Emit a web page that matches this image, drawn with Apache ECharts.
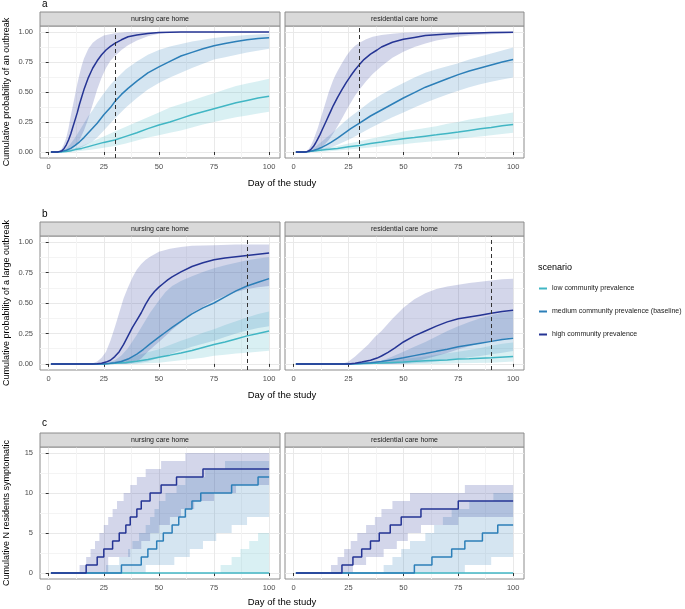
<!DOCTYPE html>
<html><head><meta charset="utf-8">
<script src="https://cdn.jsdelivr.net/npm/echarts@6/dist/echarts.min.js"></script>
<style>html,body{margin:0;padding:0;background:#fff}#chart{width:685px;height:609px}</style>
</head><body><div id="chart"></div>
<script>
// ---------------- labels ----------------
const scenarioNames = ['low community prevalence', 'medium community prevalence (baseline)', 'high community prevalence'];
const facetNames = ['nursing care home', 'residential care home'];
const rowLetters = ['a', 'b', 'c'];
const yTitles = ['Cumulative probability of an outbreak', 'Cumulative probability of a large outbreak', 'Cumulative N residents symptomatic'];
const xTitle = 'Day of the study';
const xTicks = [0, 25, 50, 75, 100];
const xMinorTicks = [12.5, 37.5, 62.5, 87.5];
const probTicks = [0, 0.25, 0.5, 0.75, 1];
const probMinorTicks = [0.125, 0.375, 0.625, 0.875];
const countTicks = [0, 5, 10, 15];
const countMinorTicks = [2.5, 7.5, 12.5];
const cutoffDays = [30, 90, null];

// ---------------- panel a : nursing ----------------
const aNursLowLine = [[1,0],[5,0],[8,0.005],[10,0.01],[12,0.02],[15,0.03],[18,0.045],[20,0.055],[25,0.08],[30,0.10],[35,0.13],[40,0.16],[45,0.195],[50,0.225],[55,0.25],[60,0.28],[65,0.31],[70,0.335],[75,0.36],[80,0.385],[85,0.41],[90,0.43],[95,0.45],[100,0.465]];
const aNursLowHi = [[1,0],[5,0],[8,0.01],[10,0.02],[15,0.05],[20,0.09],[25,0.13],[30,0.17],[35,0.21],[40,0.25],[45,0.29],[50,0.33],[55,0.37],[60,0.40],[65,0.43],[70,0.46],[75,0.49],[80,0.52],[85,0.55],[90,0.57],[95,0.59],[100,0.61]];
const aNursLowLo = [[1,0],[10,0],[15,0.01],[20,0.02],[25,0.035],[30,0.05],[35,0.07],[40,0.095],[45,0.12],[50,0.14],[55,0.16],[60,0.18],[65,0.205],[70,0.23],[75,0.25],[80,0.27],[85,0.29],[90,0.305],[95,0.32],[100,0.335]];
const aNursMedLine = [[1,0],[4,0],[6,0.005],[8,0.015],[10,0.03],[12,0.055],[14,0.085],[16,0.12],[18,0.16],[20,0.2],[22,0.24],[25,0.31],[28,0.37],[30,0.42],[33,0.48],[36,0.53],[40,0.59],[45,0.66],[50,0.71],[55,0.755],[60,0.80],[65,0.83],[70,0.86],[75,0.885],[80,0.905],[85,0.92],[90,0.935],[95,0.945],[100,0.952]];
const aNursMedHi = [[1,0],[4,0],[6,0.01],[8,0.03],[10,0.07],[12,0.12],[14,0.18],[16,0.24],[18,0.30],[20,0.35],[22,0.41],[25,0.49],[28,0.56],[30,0.60],[35,0.69],[40,0.755],[45,0.81],[50,0.85],[55,0.88],[60,0.90],[65,0.92],[70,0.935],[75,0.95],[80,0.96],[90,0.975],[100,0.985]];
const aNursMedLo = [[1,0],[8,0],[10,0.005],[12,0.015],[14,0.03],[16,0.05],[18,0.07],[20,0.09],[22,0.12],[25,0.18],[28,0.24],[30,0.28],[35,0.37],[40,0.45],[45,0.52],[50,0.575],[55,0.62],[60,0.66],[65,0.70],[70,0.735],[75,0.77],[80,0.79],[90,0.83],[100,0.86]];
const aNursHighLine = [[1,0],[4,0],[5,0.005],[6,0.01],[7,0.03],[8,0.06],[9,0.1],[10,0.15],[11,0.21],[12,0.27],[13,0.33],[14,0.40],[15,0.46],[16,0.52],[17,0.57],[18,0.62],[19,0.66],[20,0.70],[22,0.76],[24,0.81],[26,0.85],[28,0.88],[30,0.905],[33,0.935],[36,0.96],[40,0.975],[45,0.988],[50,0.995],[60,0.999],[70,1],[100,1]];
const aNursHighHi = [[1,0],[4,0],[5,0.01],[6,0.03],[7,0.07],[8,0.12],[9,0.2],[10,0.3],[11,0.39],[12,0.48],[13,0.57],[14,0.65],[15,0.72],[16,0.78],[18,0.86],[20,0.91],[22,0.94],[25,0.97],[30,0.99],[35,0.997],[40,1],[100,1]];
const aNursHighLo = [[1,0],[7,0],[8,0.005],[10,0.02],[12,0.05],[14,0.10],[16,0.18],[18,0.28],[20,0.40],[22,0.52],[24,0.62],[26,0.70],[28,0.76],[30,0.80],[33,0.85],[36,0.89],[40,0.93],[45,0.965],[50,0.985],[55,0.995],[60,1],[100,1]];

// ---------------- panel a : residential ----------------
const aResLowLine = [[1,0],[5,0],[10,0.01],[15,0.02],[20,0.03],[25,0.043],[30,0.055],[35,0.07],[40,0.083],[45,0.097],[50,0.11],[55,0.12],[60,0.132],[65,0.143],[70,0.155],[75,0.167],[80,0.18],[85,0.193],[90,0.205],[95,0.218],[100,0.23]];
const aResLowHi = [[1,0],[5,0],[10,0.02],[15,0.035],[20,0.05],[25,0.07],[30,0.09],[35,0.11],[40,0.13],[45,0.15],[50,0.17],[55,0.185],[60,0.2],[65,0.215],[70,0.235],[75,0.25],[80,0.27],[85,0.285],[90,0.3],[95,0.315],[100,0.33]];
const aResLowLo = [[1,0],[10,0],[15,0.005],[20,0.012],[25,0.02],[30,0.03],[35,0.038],[40,0.047],[45,0.056],[50,0.065],[55,0.074],[60,0.083],[65,0.092],[70,0.1],[75,0.11],[80,0.12],[85,0.13],[90,0.14],[95,0.15],[100,0.16]];
const aResMedLine = [[1,0],[5,0],[7,0.004],[9,0.012],[11,0.025],[13,0.04],[15,0.06],[17,0.08],[20,0.115],[23,0.155],[26,0.195],[30,0.24],[35,0.30],[40,0.35],[45,0.40],[50,0.45],[55,0.495],[60,0.54],[65,0.575],[70,0.61],[75,0.645],[80,0.675],[85,0.70],[90,0.725],[95,0.75],[100,0.77]];
const aResMedHi = [[1,0],[5,0],[7,0.01],[9,0.03],[11,0.06],[13,0.09],[15,0.12],[17,0.15],[20,0.2],[23,0.25],[26,0.295],[30,0.35],[35,0.42],[40,0.48],[45,0.53],[50,0.575],[55,0.62],[60,0.66],[65,0.69],[70,0.715],[75,0.74],[80,0.77],[85,0.795],[90,0.82],[95,0.845],[100,0.87]];
const aResMedLo = [[1,0],[8,0],[10,0.005],[12,0.012],[15,0.025],[18,0.045],[20,0.06],[23,0.085],[26,0.11],[30,0.15],[35,0.2],[40,0.245],[45,0.29],[50,0.33],[55,0.37],[60,0.41],[65,0.445],[70,0.48],[75,0.51],[80,0.54],[85,0.565],[90,0.585],[95,0.605],[100,0.62]];
const aResHighLine = [[1,0],[5,0],[6,0.003],[7,0.01],[8,0.025],[9,0.045],[10,0.075],[11,0.11],[12,0.145],[13,0.185],[14,0.225],[15,0.265],[16,0.305],[17,0.345],[18,0.385],[19,0.42],[20,0.455],[22,0.52],[24,0.58],[26,0.635],[28,0.685],[30,0.73],[32,0.77],[35,0.815],[38,0.85],[40,0.875],[45,0.915],[50,0.94],[55,0.955],[60,0.97],[65,0.978],[70,0.983],[75,0.987],[80,0.99],[90,0.995],[100,0.997]];
const aResHighHi = [[1,0],[5,0],[6,0.01],[7,0.03],[8,0.06],[9,0.1],[10,0.15],[11,0.2],[12,0.26],[13,0.32],[14,0.38],[15,0.44],[16,0.5],[17,0.55],[18,0.6],[19,0.64],[20,0.675],[22,0.74],[24,0.8],[26,0.85],[28,0.885],[30,0.91],[33,0.94],[36,0.96],[40,0.975],[45,0.985],[50,0.993],[60,0.998],[70,1],[100,1]];
const aResHighLo = [[1,0],[7,0],[8,0.003],[10,0.01],[12,0.03],[14,0.06],[16,0.1],[18,0.155],[20,0.215],[22,0.28],[25,0.38],[28,0.47],[30,0.52],[33,0.59],[36,0.65],[40,0.715],[45,0.785],[50,0.835],[55,0.875],[60,0.905],[65,0.93],[70,0.945],[75,0.96],[80,0.97],[90,0.982],[100,0.99]];

// ---------------- panel b : nursing ----------------
const bNursLowLine = [[1,0],[25,0],[30,0.005],[35,0.012],[40,0.022],[45,0.037],[50,0.055],[55,0.072],[60,0.09],[65,0.11],[70,0.135],[75,0.16],[80,0.18],[85,0.205],[90,0.23],[95,0.25],[100,0.27]];
const bNursLowHi = [[1,0],[25,0],[30,0.02],[35,0.04],[40,0.07],[45,0.095],[50,0.12],[55,0.155],[60,0.19],[65,0.22],[70,0.255],[75,0.285],[80,0.32],[85,0.35],[90,0.38],[95,0.41],[100,0.43]];
const bNursLowLo = [[1,0],[40,0],[45,0.005],[50,0.01],[55,0.02],[60,0.03],[65,0.04],[70,0.05],[75,0.066],[80,0.075],[85,0.085],[90,0.092],[95,0.1],[100,0.107]];
const bNursMedLine = [[1,0],[25,0],[28,0.005],[30,0.01],[33,0.02],[36,0.04],[40,0.08],[43,0.12],[46,0.165],[50,0.22],[53,0.26],[56,0.30],[60,0.35],[65,0.41],[70,0.46],[75,0.50],[80,0.55],[85,0.60],[90,0.64],[95,0.67],[100,0.70]];
const bNursMedHi = [[1,0],[24,0],[27,0.01],[30,0.03],[33,0.07],[36,0.13],[40,0.24],[43,0.33],[46,0.42],[50,0.52],[53,0.59],[56,0.64],[60,0.68],[65,0.72],[70,0.755],[75,0.785],[80,0.81],[85,0.83],[90,0.85],[95,0.865],[100,0.875]];
const bNursMedLo = [[1,0],[35,0],[40,0.005],[45,0.02],[50,0.05],[55,0.08],[60,0.11],[65,0.14],[70,0.165],[75,0.19],[80,0.22],[85,0.25],[90,0.275],[95,0.295],[100,0.31]];
const bNursHighLine = [[1,0],[20,0],[22,0.002],[24,0.006],[26,0.015],[28,0.03],[30,0.06],[32,0.10],[34,0.16],[36,0.23],[38,0.30],[40,0.36],[42,0.42],[44,0.49],[46,0.55],[48,0.595],[50,0.63],[52,0.66],[54,0.69],[56,0.715],[58,0.735],[60,0.755],[65,0.80],[70,0.83],[75,0.855],[80,0.87],[85,0.88],[90,0.89],[95,0.90],[100,0.91]];
const bNursHighHi = [[1,0],[19,0],[20,0.005],[22,0.02],[24,0.05],[26,0.1],[28,0.19],[30,0.3],[32,0.42],[34,0.54],[36,0.63],[38,0.71],[40,0.775],[42,0.82],[44,0.855],[46,0.88],[48,0.9],[50,0.92],[55,0.945],[60,0.96],[65,0.97],[75,0.975],[85,0.98],[100,0.98]];
const bNursHighLo = [[1,0],[35,0],[38,0.01],[40,0.02],[42,0.045],[45,0.10],[48,0.15],[50,0.18],[53,0.23],[56,0.28],[60,0.34],[65,0.42],[70,0.47],[75,0.52],[80,0.56],[85,0.59],[90,0.615],[95,0.63],[100,0.64]];

// ---------------- panel b : residential ----------------
const bResLowLine = [[1,0],[25,0],[30,0.002],[40,0.008],[50,0.015],[60,0.025],[70,0.033],[75,0.04],[80,0.043],[90,0.05],[100,0.06]];
const bResLowHi = [[1,0],[25,0],[30,0.007],[35,0.013],[40,0.02],[45,0.03],[50,0.04],[55,0.05],[60,0.06],[65,0.075],[70,0.088],[75,0.10],[80,0.115],[85,0.13],[90,0.15],[95,0.165],[100,0.175]];
const bResLowLo = [[1,0],[65,0],[75,0.005],[90,0.01],[100,0.02]];
const bResMedLine = [[1,0],[25,0],[30,0.003],[35,0.01],[40,0.02],[45,0.035],[50,0.05],[55,0.068],[60,0.085],[65,0.103],[70,0.12],[75,0.14],[80,0.155],[85,0.17],[90,0.185],[95,0.2],[100,0.21]];
const bResMedHi = [[1,0],[28,0],[32,0.005],[36,0.012],[40,0.025],[45,0.06],[50,0.10],[55,0.14],[60,0.18],[65,0.225],[70,0.27],[75,0.31],[80,0.345],[85,0.375],[90,0.40],[95,0.42],[100,0.43]];
const bResMedLo = [[1,0],[50,0],[55,0.005],[60,0.01],[65,0.02],[70,0.03],[75,0.04],[80,0.055],[85,0.065],[90,0.08],[95,0.092],[100,0.105]];
const bResHighLine = [[1,0],[25,0],[28,0.005],[31,0.015],[35,0.03],[38,0.048],[40,0.065],[43,0.095],[46,0.13],[50,0.18],[55,0.23],[60,0.27],[65,0.31],[70,0.345],[75,0.37],[80,0.385],[85,0.40],[90,0.415],[95,0.43],[100,0.44]];
const bResHighHi = [[1,0],[22,0],[25,0.02],[28,0.06],[31,0.11],[34,0.16],[37,0.22],[40,0.27],[45,0.37],[50,0.46],[55,0.53],[60,0.58],[65,0.615],[70,0.635],[75,0.65],[80,0.665],[85,0.675],[90,0.685],[95,0.695],[100,0.70]];
const bResHighLo = [[1,0],[45,0],[50,0.005],[55,0.02],[60,0.04],[65,0.065],[70,0.09],[75,0.12],[80,0.145],[85,0.17],[90,0.19],[95,0.205],[100,0.22]];

// ---------------- panel c : nursing (step change points) ----------------
const cNursLowLine = [[1,0],[100,0]];
const cNursLowHi = [[1,0],[78,1],[83,2],[87,3],[91,4],[95,5],[100,5]];
const cNursLowLo = [[1,0],[100,0]];
const cNursMedLine = [[1,0],[33,1],[42,2],[45,3],[49,4],[52,5],[56,6],[59,7],[62,8],[65,9],[69,10],[83,11],[95,12],[100,12]];
const cNursMedHi = [[1,0],[26,1],[32,2],[36,3],[38,4],[41,5],[44,6],[46,7],[48,8],[50,9],[53,10],[58,11],[62,12],[71,13],[80,14],[100,14]];
const cNursMedLo = [[1,0],[44,1],[57,2],[64,3],[70,4],[76,5],[83,6],[90,7],[100,7]];
const cNursHighLine = [[1,0],[17,1],[22,2],[25,3],[29,4],[32,5],[35,6],[37,7],[40,8],[42,9],[46,10],[51,11],[58,12],[70,13],[100,13]];
const cNursHighHi = [[1,0],[14,1],[17,2],[19,3],[21,4],[23,5],[25,6],[27,7],[29,8],[31,9],[34,10],[37,11],[40,12],[44,13],[51,14],[62,15],[100,15]];
const cNursHighLo = [[1,0],[27,2],[37,3],[42,4],[46,5],[50,6],[55,7],[60,8],[66,9],[75,10],[85,11],[100,11]];

// ---------------- panel c : residential (step change points) ----------------
const cResLowLine = [[1,0],[100,0]];
const cResLowHi = [[1,0],[100,0]];
const cResLowLo = [[1,0],[100,0]];
const cResMedLine = [[1,0],[55,1],[63,2],[72,3],[78,4],[86,5],[93,6],[100,6]];
const cResMedHi = [[1,0],[41,1],[45,2],[49,3],[53,4],[60,5],[64,6],[68,7],[72,8],[80,9],[91,10],[100,10]];
const cResMedLo = [[1,0],[78,1],[90,2],[100,2]];
const cResHighLine = [[1,0],[22,1],[27,2],[31,3],[35,4],[39,5],[44,6],[49,7],[58,8],[75,9],[100,9]];
const cResHighHi = [[1,0],[17,1],[20,2],[23,3],[26,4],[29,5],[33,6],[37,7],[40,8],[45,9],[53,10],[78,11],[100,11]];
const cResHighLo = [[1,0],[27,1],[33,2],[41,3],[47,4],[52,5],[58,6],[75,7],[100,7]];

// ---------------- assembly ----------------
const panels = [
  {lines:[aNursLowLine,aNursMedLine,aNursHighLine], his:[aNursLowHi,aNursMedHi,aNursHighHi], los:[aNursLowLo,aNursMedLo,aNursHighLo]},
  {lines:[aResLowLine,aResMedLine,aResHighLine], his:[aResLowHi,aResMedHi,aResHighHi], los:[aResLowLo,aResMedLo,aResHighLo]},
  {lines:[bNursLowLine,bNursMedLine,bNursHighLine], his:[bNursLowHi,bNursMedHi,bNursHighHi], los:[bNursLowLo,bNursMedLo,bNursHighLo]},
  {lines:[bResLowLine,bResMedLine,bResHighLine], his:[bResLowHi,bResMedHi,bResHighHi], los:[bResLowLo,bResMedLo,bResHighLo]},
  {lines:[cNursLowLine,cNursMedLine,cNursHighLine], his:[cNursLowHi,cNursMedHi,cNursHighHi], los:[cNursLowLo,cNursMedLo,cNursHighLo]},
  {lines:[cResLowLine,cResMedLine,cResHighLine], his:[cResLowHi,cResMedHi,cResHighHi], los:[cResLowLo,cResMedLo,cResHighLo]}
];

const FONT = '"Liberation Sans", Arial, Helvetica, sans-serif';
const lineColors = ['#41B6C4', '#2C7FB8', '#253494'];
const ribbonColors = ['rgba(65,182,196,0.2)', 'rgba(44,127,184,0.2)', 'rgba(37,52,148,0.2)'];
const cols = [{left:40, width:240}, {left:285, width:239}];
const rows = [{top:26, height:132}, {top:236, height:134}, {top:447, height:132}];
const stripH = 14;
const xRange = [-3.95, 104.95];
const yRanges = [[-0.05, 1.05], [-0.05, 1.05], [-0.75, 15.75]];

function stepPts(arr) {
  const out = [];
  for (let i = 0; i < arr.length; i++) {
    if (i > 0) out.push([arr[i][0], arr[i-1][1]]);
    out.push(arr[i]);
  }
  return out;
}

const grid = [], xAxis = [], yAxis = [], series = [], graphic = [];
const gridColor = '#E9E9E9', minorColor = '#F4F4F4', borderColor = '#8C8C8C';

for (let r = 0; r < 3; r++) {
  for (let c = 0; c < 2; c++) {
    const g = r * 2 + c;
    const isStep = r === 2;
    grid.push({left: cols[c].left, top: rows[r].top, width: cols[c].width, height: rows[r].height,
      show: true, borderColor: borderColor, borderWidth: 1, backgroundColor: 'transparent', containLabel: false});
    const yt = r === 2 ? countTicks : probTicks;
    const ym = r === 2 ? countMinorTicks : probMinorTicks;
    xAxis.push({type:'value', gridIndex:g, min:xRange[0], max:xRange[1], position:'bottom',
      axisLine:{show:false}, axisTick:{show:true, length:3, lineStyle:{color:'#333'}, customValues:xTicks},
      axisLabel:{show:true, customValues:xTicks, margin:5, fontSize:7.5, color:'#4D4D4D', fontFamily:FONT},
      splitLine:{show:true, lineStyle:{color:gridColor, width:1}}});
    xAxis.push({type:'value', gridIndex:g, min:xRange[0], max:xRange[1], position:'bottom',
      axisLine:{show:false}, axisTick:{show:false, customValues:xMinorTicks},
      axisLabel:{show:false, customValues:xMinorTicks},
      splitLine:{show:true, lineStyle:{color:minorColor, width:1}}});
    yAxis.push({type:'value', gridIndex:g, min:yRanges[r][0], max:yRanges[r][1], position:'left',
      axisLine:{show:false}, axisTick:{show:c === 0, length:3, lineStyle:{color:'#333'}, customValues:yt},
      axisLabel:{show:c === 0, customValues:yt, margin:7, fontSize:7.5, color:'#4D4D4D', fontFamily:FONT,
        formatter: v => r === 2 ? String(Math.round(v)) : Number(v).toFixed(2)},
      splitLine:{show:true, lineStyle:{color:gridColor, width:1}}});
    yAxis.push({type:'value', gridIndex:g, min:yRanges[r][0], max:yRanges[r][1], position:'left',
      axisLine:{show:false}, axisTick:{show:false, customValues:ym},
      axisLabel:{show:false, customValues:ym},
      splitLine:{show:true, lineStyle:{color:minorColor, width:1}}});

    const p = panels[g];
    for (let s = 0; s < 3; s++) {
      const hi = isStep ? stepPts(p.his[s]) : p.his[s];
      const lo = isStep ? stepPts(p.los[s]) : p.los[s];
      const poly = hi.concat(lo.slice().reverse());
      series.push({type:'custom', name:'ribbon-' + g + '-' + s, xAxisIndex:2*g, yAxisIndex:2*g, silent:true, z:1,
        data:[[50, 0]],
        renderItem: (params, api) => {
          if (params.dataIndex !== 0) return null;
          return {type:'polygon', shape:{points: poly.map(pt => api.coord(pt))}, style:{fill: ribbonColors[s], stroke:null}};
        }});
    }
    for (let s = 0; s < 3; s++) {
      const ser = {type:'line', name:scenarioNames[s], xAxisIndex:2*g, yAxisIndex:2*g, data:p.lines[s],
        showSymbol:false, symbol:'none', silent:true, z:3, color:lineColors[s],
        lineStyle:{color:lineColors[s], width:1.5}};
      if (isStep) ser.step = 'end';
      if (s === 2 && cutoffDays[r] !== null) {
        ser.markLine = {silent:true, symbol:['none','none'], label:{show:false}, animation:false,
          lineStyle:{color:'#333', type:[4,3], width:1}, data:[{xAxis: cutoffDays[r]}]};
      }
      series.push(ser);
    }
    graphic.push({type:'rect', shape:{x:cols[c].left, y:rows[r].top - stripH, width:cols[c].width, height:stripH},
      style:{fill:'#D9D9D9', stroke:borderColor, lineWidth:1}, z:10});
    graphic.push({type:'text', x:cols[c].left + cols[c].width/2, y:rows[r].top - stripH/2,
      style:{text:facetNames[c], fill:'#1A1A1A', font:'7px ' + FONT, textAlign:'center', textVerticalAlign:'middle', align:'center', verticalAlign:'middle'}, z:11});
  }
}

const letterY = [4, 214, 423];
const xTitleY = [183, 395.5, 602];
const yTitleY = [92, 303, 513];
for (let r = 0; r < 3; r++) {
  graphic.push({type:'text', x:42, y:letterY[r],
    style:{text:rowLetters[r], fill:'#000', font:'10px ' + FONT, textAlign:'left', textVerticalAlign:'middle', align:'left', verticalAlign:'middle'}});
  graphic.push({type:'text', x:282, y:xTitleY[r],
    style:{text:xTitle, fill:'#000', font:'9.5px ' + FONT, textAlign:'center', textVerticalAlign:'middle', align:'center', verticalAlign:'middle'}});
  graphic.push({type:'text', x:7, y:yTitleY[r], rotation:Math.PI/2,
    style:{text:yTitles[r], fill:'#000', font:'9px ' + FONT, textAlign:'center', textVerticalAlign:'middle', align:'center', verticalAlign:'middle'}});
}
graphic.push({type:'text', x:538, y:268,
  style:{text:'scenario', fill:'#000', font:'9px ' + FONT, textAlign:'left', textVerticalAlign:'middle', align:'left', verticalAlign:'middle'}});

const option = {
  animation:false,
  backgroundColor:'#fff',
  grid, xAxis, yAxis, series, graphic,
  legend:{orient:'vertical', left:539, top:285, padding:0, icon:'rect', itemWidth:8, itemHeight:2, itemGap:16,
    selectedMode:false, data:scenarioNames,
    textStyle:{fontSize:7, color:'#1A1A1A', fontFamily:FONT}}
};

const chart = echarts.init(document.getElementById('chart'), null, {renderer:'canvas'});
chart.setOption(option);
</script></body></html>
